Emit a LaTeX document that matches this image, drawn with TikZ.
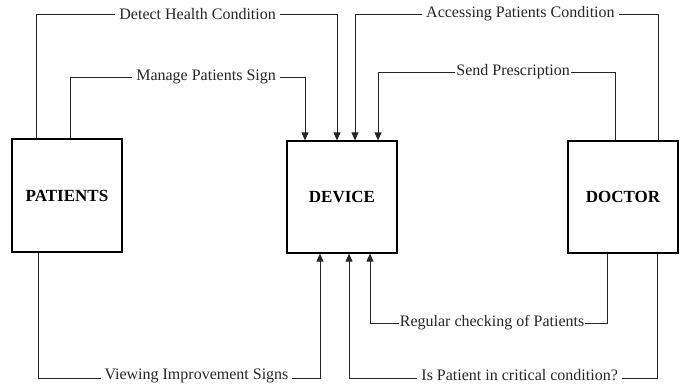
\documentclass[tikz,border=0pt]{standalone}
\usepackage{fontspec}
\setmainfont{Liberation Serif}
\usetikzlibrary{arrows.meta}
\begin{document}
\begin{tikzpicture}[x=1pt,y=-1pt,
  entity/.style={draw=black,line width=1.2pt,minimum width=110pt,minimum height=112pt,inner sep=0pt,
    font=\fontsize{17}{20}\selectfont\bfseries},
  flow/.style={draw=black!85,line width=0.8pt,-{Triangle[width=7pt,length=8pt]}},
  lbl/.style={fill=white,inner xsep=4pt,inner ysep=1pt,font=\fontsize{16}{19}\selectfont,text=black!85},
  lowlbl/.style={lbl,inner ysep=0pt,yshift=2.5pt}]
\useasboundingbox (0,0) rectangle (684,385);
\node[entity,minimum height=113pt] (patients) at (67,195.5) {PATIENTS};
\node[entity] (device) at (342,197) {DEVICE};
\node[entity] (doctor) at (623,197) {DOCTOR};
% top connectors
\draw[flow] (36,0 |- patients.north) -- (36,14) -- node[lbl,pos=0.537]{Detect Health Condition} (337,14) -- (337,0 |- device.north);
\draw[flow] (70,0 |- patients.north) -- (70,77) -- node[lbl,pos=0.579]{Manage Patients Sign} (305,77) -- (305,0 |- device.north);
\draw[flow] (658,0 |- doctor.north) -- (658,14) -- node[lbl,pos=0.454]{Accessing Patients Condition} (355,14) -- (355,0 |- device.north);
\draw[flow] (615,0 |- doctor.north) -- (615,72) -- node[lbl,pos=0.43,inner xsep=1pt]{Send Prescription} (378,72) -- (378,0 |- device.north);
% bottom connectors
\draw[flow] (38,0 |- patients.south) -- (38,378) -- node[lowlbl,pos=0.562]{Viewing Improvement Signs} (320,378) -- (320,0 |- device.south);
\draw[flow] (607,0 |- doctor.south) -- (607,323) -- node[lbl,pos=0.485,inner xsep=1pt]{Regular checking of Patients} (370,323) -- (370,0 |- device.south);
\draw[flow] (657,0 |- doctor.south) -- (657,378) -- node[lowlbl,pos=0.446]{Is Patient in critical condition?} (349,378) -- (349,0 |- device.south);
\end{tikzpicture}
\end{document}
